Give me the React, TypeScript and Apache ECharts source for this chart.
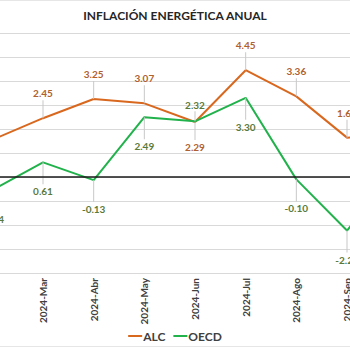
import React, { useEffect, useRef } from "react";
import * as echarts from "echarts";

const categories = ["2024-Feb", "2024-Mar", "2024-Abr", "2024-May", "2024-Jun", "2024-Jul", "2024-Ago", "2024-Sep", "2024-Oct"];
const alcValues = [1.55, 2.45, 3.25, 3.07, 2.29, 4.45, 3.36, 1.64, 1.7];
const oecdValues = [-0.54, 0.61, -0.13, 2.49, 2.32, 3.3, -0.1, -2.23, 0.35];
const legendNames = ["ALC", "OECD"];
const titleText = "INFLACIÓN ENERGÉTICA ANUAL";

const FONT = "Lato, 'Open Sans', sans-serif";
const ALC_COLOR = "#D9681F";
const OECD_COLOR = "#22B24C";
const LEADER = "#C8C8C8";

export default function App() {
  const ref = useRef<HTMLDivElement>(null);
  useEffect(() => {
    if (!ref.current) return;
    const chart = echarts.init(ref.current, undefined, { renderer: "svg" });
    const junIdx = categories.indexOf("2024-Jun");
    const febIdx = categories.indexOf("2024-Feb");
    const labelBase = {
      show: true,
      fontFamily: FONT,
      fontSize: 10,
      fontWeight: "bold",
      formatter: (p: any) => Number(p.value).toFixed(2),
    };
    chart.setOption({
      animation: false,
      backgroundColor: "#FFFFFF",
      title: {
        text: titleText,
        left: "center",
        top: 4,
        textStyle: { fontFamily: FONT, fontSize: 12, fontWeight: "bold", color: "#262626" },
      },
      legend: {
        data: [
          { name: legendNames[0], itemStyle: { color: ALC_COLOR } },
          { name: legendNames[1], itemStyle: { color: OECD_COLOR } },
        ],
        bottom: 3,
        left: "center",
        icon: "rect",
        itemWidth: 14,
        itemHeight: 2,
        itemGap: 8,
        textStyle: { fontFamily: FONT, fontSize: 12, fontWeight: "bold", color: "#404040", padding: [0, 0, 0, -4] },
      },
      graphic: [
        { type: "line", shape: { x1: 0, y1: 0.5, x2: 350, y2: 0.5 }, style: { stroke: "#E6E6E6", lineWidth: 1 } },
        { type: "line", shape: { x1: 0, y1: 346.5, x2: 350, y2: 346.5 }, style: { stroke: "#E6E6E6", lineWidth: 1 } },
      ],
      grid: { left: -33, right: -73, top: 33, bottom: 77, containLabel: false, outerBoundsMode: "none" },
      xAxis: {
        type: "category",
        data: categories,
        boundaryGap: true,
        axisLine: { show: false },
        axisTick: { show: false },
        splitLine: { show: false },
        axisLabel: {
          rotate: 90,
          margin: 5,
          fontFamily: FONT,
          fontSize: 10,
          fontWeight: "bold",
          color: "#404040",
          interval: 0,
        },
      },
      yAxis: {
        type: "value",
        min: -4,
        max: 6,
        interval: 1,
        axisLabel: { show: false },
        axisLine: { show: false },
        axisTick: { show: false },
        splitLine: { lineStyle: { color: "#D9D9D9", width: 1 } },
      },
      series: [
        {
          name: legendNames[0],
          type: "line",
          data: alcValues.map((v, i) =>
            i === junIdx
              ? { value: v, symbolOffset: [0, 9], label: { position: "bottom", distance: 2 } }
              : i === febIdx
              ? { value: v, label: { show: false } }
              : v
          ),
          symbol: "rect",
          symbolSize: [1, 18],
          symbolOffset: [0, -9],
          showSymbol: true,
          lineStyle: { color: ALC_COLOR, width: 2 },
          itemStyle: { color: LEADER },
          label: { ...labelBase, position: "top", distance: 2, color: "#B0612E" },
          markLine: {
            silent: true,
            symbol: "none",
            label: { show: false },
            lineStyle: { color: "#1A1A1A", width: 1.5, type: "solid" },
            data: [{ yAxis: 0 }],
          },
          z: 3,
        },
        {
          name: legendNames[1],
          type: "line",
          data: oecdValues.map((v, i) =>
            i === junIdx
              ? { value: v, symbolSize: [1, 10], symbolOffset: [0, -5], label: { position: "top", distance: 1 } }
              : v
          ),
          symbol: "rect",
          symbolSize: [1, 22],
          symbolOffset: [0, 11],
          showSymbol: true,
          lineStyle: { color: OECD_COLOR, width: 2 },
          itemStyle: { color: LEADER },
          label: { ...labelBase, position: "bottom", distance: 2, color: "#5A7A3A" },
          z: 4,
        },
      ],
    });
    return () => chart.dispose();
  }, []);
  return <div ref={ref} style={{ position: "fixed", left: 0, top: 0, width: 350, height: 350 }} />;
}
